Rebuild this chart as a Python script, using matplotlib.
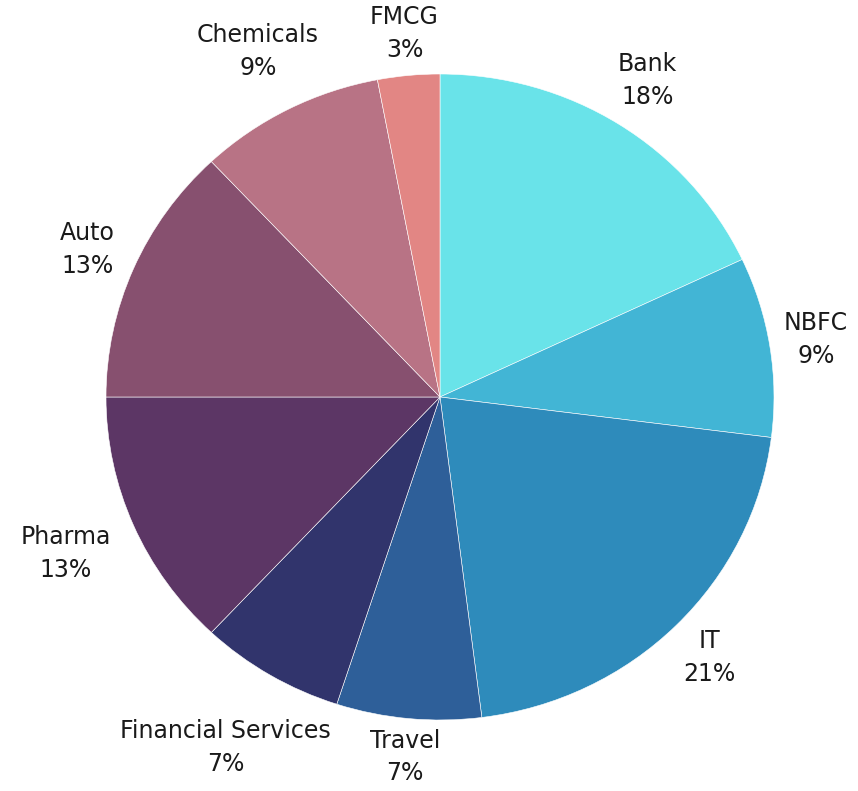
import numpy as np
import matplotlib.pyplot as plt

# sector allocation (percent), clockwise from 12 o'clock
sectors = ['Bank', 'NBFC', 'IT', 'Travel', 'Financial Services',
           'Pharma', 'Auto', 'Chemicals', 'FMCG']
shares = [18, 9, 21, 7, 7, 13, 13, 9, 3]
colors = ['#69E3E9', '#42B5D5', '#2E8BBB', '#2E5F99', '#31346C',
          '#5C3665', '#87506F', '#B87385', '#E28684']

# how far out each label sits (in pie radii)
label_dist = [1.16, 1.14, 1.14, 1.12, 1.26, 1.22, 1.15, 1.2, 1.13]

plt.rcParams['font.family'] = ['DejaVu Sans']

fig = plt.figure(figsize=(8.58, 7.91), dpi=100)
ax = fig.add_axes([0, 0, 1, 1])

wedges, _ = ax.pie(shares, colors=colors, startangle=90, counterclock=False,
                   radius=1.0, wedgeprops=dict(edgecolor='white', linewidth=0.4))

# labels: name and percent, centred on the wedge direction
for w, name, val, d in zip(wedges, sectors, shares, label_dist):
    mid = np.deg2rad((w.theta1 + w.theta2) / 2)
    ax.text(d * np.cos(mid), d * np.sin(mid), f"{name}\n{val}%",
            ha='center', va='center', fontsize=17, color='#1a1a1a',
            linespacing=1.45)

# pie is drawn slightly wider than tall in the reference
ax.set_aspect('auto')
ax.set_xlim(-440 / 334, (858 - 440) / 334)
ax.set_ylim(-394 / 323, 397 / 323)
ax.axis('off')

plt.savefig('out.png', dpi=100)
